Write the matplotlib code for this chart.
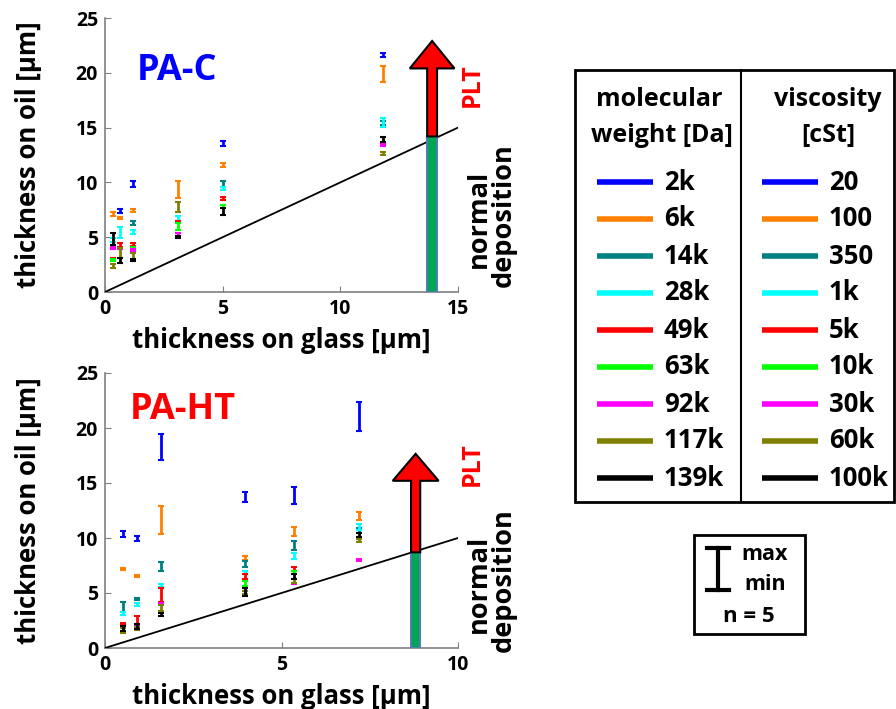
import numpy as np
import matplotlib
matplotlib.use("Agg")
import matplotlib.pyplot as plt
from matplotlib.patches import Rectangle

plt.rcParams['font.family'] = ['Open Sans', 'DejaVu Sans']
plt.rcParams['font.weight'] = 'bold'

nan = np.nan

colors = ['#0000FF', '#FF7F00', '#008080', '#00FFFF', '#FF0000',
          '#00FF00', '#FF00FF', '#808000', '#000000']
mw_labels = ['2k', '6k', '14k', '28k', '49k', '63k', '92k', '117k', '139k']
visc_labels = ['20', '100', '350', '1k', '5k', '10k', '30k', '60k', '100k']

# PA-C: thickness on glass for each sample column
top_x = [0.35, 0.64, 1.2, 3.1, 5.0, 11.8]
# rows follow colors, columns follow top_x (min / max of n = 5)
top_min = [
    [nan, 7.24, 9.56, nan, 13.3, 21.43],
    [6.9, 6.64, 7.33, 8.55, 11.39, 19.12],
    [nan, nan, 6.12, nan, 9.62, 15.2],
    [4.6, 4.9, 5.3, 6.51, 9.32, 15.1],
    [2.9, 4.08, 4.2, 6.3, 8.4, nan],
    [2.8, nan, 4.0, 5.66, 7.64, nan],
    [3.9, 3.9, 3.75, 5.11, nan, 13.3],
    [2.2, 3.08, 2.92, 7.33, nan, 12.5],
    [4.29, 2.62, 2.8, 4.9, 7.03, 13.73],
]
top_max = [
    [nan, 7.55, 10.17, nan, 13.8, 21.85],
    [7.3, 6.88, 7.55, 10.17, 11.75, 20.58],
    [nan, nan, 6.48, nan, 10.17, 15.6],
    [4.9, 5.96, 5.66, 6.94, 9.62, 15.86],
    [3.1, 4.45, 4.45, 6.5, 8.7, nan],
    [3.0, nan, 4.15, 6.33, 7.95, nan],
    [4.1, 4.0, 3.9, 5.42, nan, 13.5],
    [2.6, 3.99, 3.53, 8.25, nan, 12.8],
    [5.36, 3.08, 3.0, 5.11, 7.64, 14.18],
]

# PA-HT
bot_x = [0.52, 0.9, 1.58, 3.97, 5.34, 7.2]
bot_min = [
    [10.1, 9.69, 17.05, 13.25, 13.1, 19.72],
    [7.1, 6.5, 10.36, 8.0, 10.2, 11.64],
    [3.31, 4.35, 6.96, 7.32, 8.9, 10.5],
    [3.0, 3.83, 5.56, 6.72, 8.09, 10.73],
    [2.16, 2.22, 4.22, 6.26, 7.02, nan],
    [nan, nan, 3.95, 5.65, 6.77, 9.95],
    [nan, 1.9, 3.92, nan, 5.8, 7.95],
    [1.4, 1.6, 3.37, 4.9, 5.95, 9.6],
    [1.55, 1.7, 2.92, 4.74, 6.26, 10.06],
]
bot_max = [
    [10.6, 10.15, 19.48, 14.16, 14.6, 22.36],
    [7.25, 6.62, 12.94, 8.39, 10.97, 12.33],
    [4.22, 4.59, 7.78, 7.87, 9.69, 10.9],
    [3.31, 4.13, 5.8, 7.02, 8.6, 11.28],
    [2.3, 2.92, 5.44, 6.72, 7.38, nan],
    [nan, nan, 4.1, 6.11, 7.02, 10.1],
    [nan, 2.0, 4.13, nan, 5.95, 8.1],
    [1.8, 1.9, 3.92, 5.2, 6.26, 9.9],
    [2.0, 2.16, 3.22, 5.5, 6.77, 10.42],
]

# PLT result (thickness on glass, normal deposition height, arrow tip)
top_plt = (13.9, 14.2, 22.9)
bot_plt = (8.8, 8.7, 17.65)

fig = plt.figure(figsize=(8.96, 7.09), dpi=100)

W, H = 896, 709


def px_axes(l, t, r, b):
    return fig.add_axes([l / W, 1 - b / H, (r - l) / W, (b - t) / H])


def panel(ax, xs, lo, hi, xmax, plt_vals, title, tcolor, tx, ty,
          shaft, head_w, head_l):
    for c, row_lo, row_hi in zip(colors, lo, hi):
        row_lo = np.array(row_lo)
        row_hi = np.array(row_hi)
        ok = ~np.isnan(row_lo)
        xs_ = np.array(xs)[ok]
        mid = (row_lo[ok] + row_hi[ok]) / 2
        err = (row_hi[ok] - row_lo[ok]) / 2
        ax.errorbar(xs_, mid, yerr=err, fmt='none', ecolor=c,
                    elinewidth=2, capsize=2, capthick=1.5, zorder=3)
    ax.plot([0, xmax], [0, xmax], color='black', lw=1.3, zorder=4)
    px, h, tip = plt_vals
    ax.bar(px, h, width=shaft, bottom=0, color='#00A651',
           edgecolor='#4F7FB0', lw=1.5, zorder=5)
    ax.arrow(px, h, 0, tip - h, width=shaft, head_width=head_w,
             head_length=head_l, length_includes_head=True,
             fc='red', ec='black', lw=1.5, zorder=5, clip_on=False)
    ax.set_xlim(0, xmax)
    ax.set_ylim(0, 25)
    ax.set_xticks(np.arange(0, xmax + 1, 5))
    ax.set_yticks(np.arange(0, 26, 5))
    for s in ['top', 'right']:
        ax.spines[s].set_visible(False)
    for s in ['left', 'bottom']:
        ax.spines[s].set_color('#808080')
        ax.spines[s].set_linewidth(1.2)
    ax.tick_params(direction='in', color='#808080', length=4,
                   labelsize=14, pad=5)
    for lab in ax.get_xticklabels() + ax.get_yticklabels():
        lab.set_fontweight('bold')
    ax.set_xlabel('thickness on glass [µm]', fontsize=18.5,
                  fontweight='bold', labelpad=6)
    ax.set_ylabel('thickness on oil [µm]', fontsize=18.5, fontweight='bold',
                  labelpad=24)
    ax.text(tx, ty, title, transform=ax.transAxes, color=tcolor,
            fontsize=26, fontweight='bold', va='center', ha='left')


ax1 = px_axes(105, 18, 458, 292)
panel(ax1, top_x, top_min, top_max, 15, top_plt, 'PA-C', '#0000FF',
      0.09, 0.805, 0.42, 1.9, 2.5)
ax2 = px_axes(105, 373, 458, 648)
panel(ax2, bot_x, bot_min, bot_max, 10, bot_plt, 'PA-HT', '#FF0000',
      0.07, 0.865, 0.26, 1.3, 2.45)

# overlay in pixel units for side annotations and legend
ov = fig.add_axes([0, 0, 1, 1], zorder=10)
ov.set_xlim(0, W)
ov.set_ylim(H, 0)
ov.axis('off')
ov.patch.set_visible(False)

for yc_plt, yc_norm, yc_dep in [(85, 219, 215), (464, 584, 580)]:
    ov.text(472, yc_plt, 'PLT', color='red', fontsize=18, fontweight='bold',
            rotation=90, ha='center', va='center')
    ov.text(479, yc_norm, 'normal', color='black', fontsize=19.5,
            fontweight='bold', rotation=90, ha='center', va='center')
    ov.text(504, yc_dep, 'deposition', color='black', fontsize=19.5,
            fontweight='bold', rotation=90, ha='center', va='center')

# legend box
ov.add_patch(Rectangle((575, 70), 319, 432, fill=False, ec='black', lw=2))
ov.plot([741, 741], [70, 502], color='black', lw=1.5)
ov.text(659, 100, 'molecular', ha='center', va='center',
        fontsize=18, fontweight='bold')
ov.text(662, 135, 'weight [Da]', ha='center', va='center',
        fontsize=18, fontweight='bold')
ov.text(828, 100, 'viscosity', ha='center', va='center',
        fontsize=18, fontweight='bold')
ov.text(828, 135, '[cSt]', ha='center', va='center',
        fontsize=18, fontweight='bold')
for i, (c, m, v) in enumerate(zip(colors, mw_labels, visc_labels)):
    y = 182 + 37 * i
    ov.plot([597, 653], [y, y], color=c, lw=4, solid_capstyle='butt')
    ov.plot([762, 818], [y, y], color=c, lw=4, solid_capstyle='butt')
    ov.text(664, y, m, ha='left', va='center', fontsize=18.5,
            fontweight='bold')
    ov.text(829, y, v, ha='left', va='center', fontsize=18.5,
            fontweight='bold')

# min/max key
ov.add_patch(Rectangle((694, 535), 111, 99, fill=False, ec='black', lw=2))
ov.plot([718, 718], [548, 590], color='black', lw=3)
ov.plot([707, 729], [548, 548], color='black', lw=3)
ov.plot([707, 729], [590, 590], color='black', lw=3)
ov.text(765, 554, 'max', ha='center', va='center', fontsize=15.5,
        fontweight='bold')
ov.text(765, 585, 'min', ha='center', va='center', fontsize=15.5,
        fontweight='bold')
ov.text(749, 616, 'n = 5', ha='center', va='center', fontsize=16,
        fontweight='bold')

fig.savefig('out.png', dpi=100)
